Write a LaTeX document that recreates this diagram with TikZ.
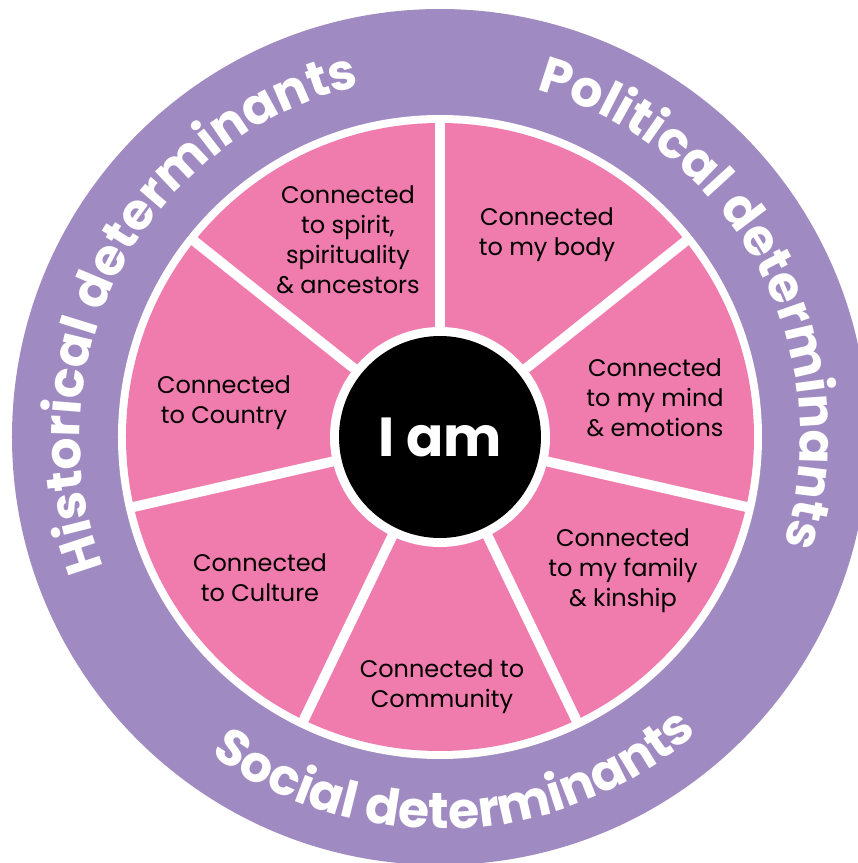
\documentclass[tikz,border=0pt]{standalone}
\usepackage{fontspec}
\setmainfont{Poppins}
\usetikzlibrary{decorations.text}
\definecolor{ringpurple}{RGB}{159,138,194}
\definecolor{segpink}{RGB}{240,123,173}
\newcommand{\curvefont}{\fontsize{50.5}{50}\selectfont\bfseries\color{white}}
\begin{document}
\begin{tikzpicture}[x=1pt,y=1pt,
  lbl/.style={font=\fontsize{24}{30}\selectfont, align=center, text=black, inner sep=0pt},
  divider/.style={draw=white, line width=10pt},
  curved/.style={decorate, decoration={text along path, text align=center, text={#1}}}]
\useasboundingbox (-440,-426) rectangle (418,437);
\clip (-440,-426) rectangle (418,437);
\fill[ringpurple] (0,0) circle (428);
\fill[white] (0,0) circle (322);
\fill[segpink] (0,0) circle (314);
\foreach \a in {90,141.43,192.86,244.29,295.71,347.14,38.57}
  \draw[divider] (0,0) -- (\a:318);
\fill[white] (0,0) circle (110);
\node[circle, fill=black, minimum size=202pt, inner sep=0pt, text=white,
  font=\fontsize{55}{55}\selectfont\bfseries] (iam) at (0,0) {I am};
\node[lbl] (spirit) at (-92,197) {Connected\\to spirit,\\spirituality\\\& ancestors};
\node[lbl] (body) at (107,202) {Connected\\to my body};
\node[lbl] (mind) at (215,39) {Connected\\to my mind\\\& emotions};
\node[lbl] (family) at (183,-134) {Connected\\to my family\\\& kinship};
\node[lbl] (community) at (2,-250) {Connected to\\Community};
\node[lbl] (culture) at (-180,-141) {Connected\\to Culture};
\node[lbl] (country) at (-216,34) {Connected\\to Country};
\path[curved={|\curvefont|Historical determinants}] (210:360) arc[start angle=210, end angle=94, radius=360];
\path[curved={|\curvefont|Political determinants}] (88:360) arc[start angle=88, end angle=-31, radius=360];
\path[curved={|\curvefont|Social determinants}] (222:392) arc[start angle=222, end angle=323.2, radius=392];
\end{tikzpicture}
\end{document}
